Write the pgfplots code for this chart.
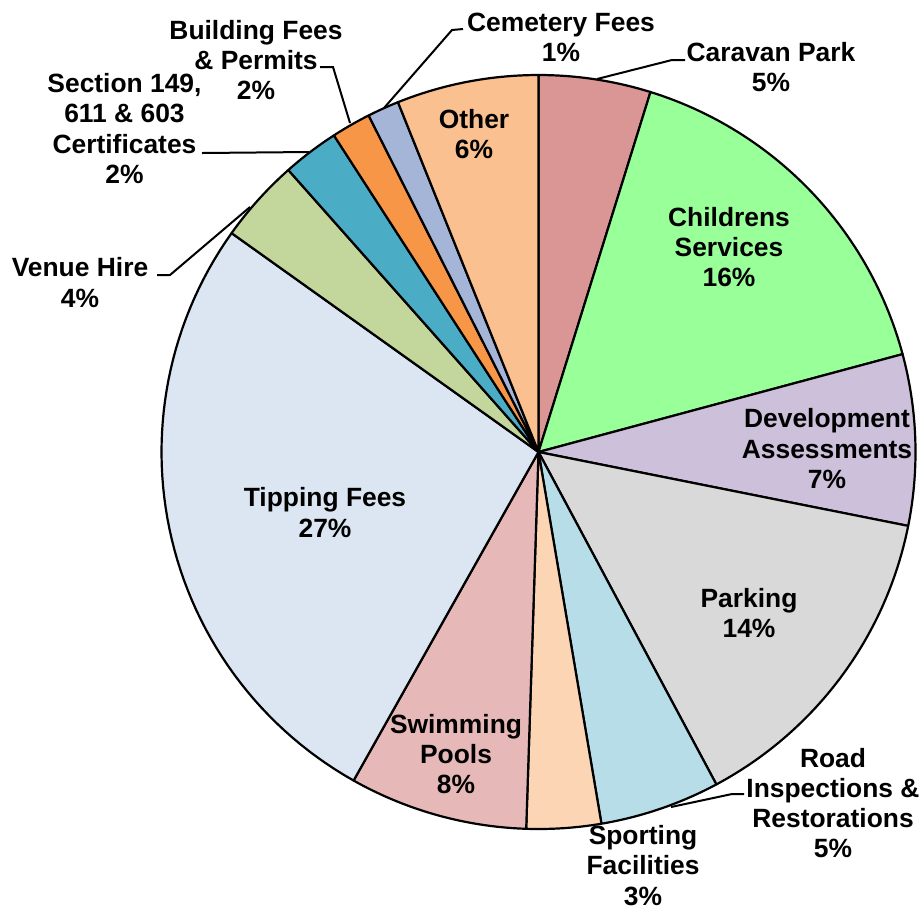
\documentclass[border=0pt]{standalone}
\usepackage{pgfplots}
\usepackage{pgfplotstable}
\pgfplotsset{compat=1.18}
\usepackage{fontspec}
\setmainfont{Liberation Sans}

\definecolor{cCaravan}{RGB}{217,150,148}
\definecolor{cChild}{RGB}{153,255,153}
\definecolor{cDev}{RGB}{204,192,218}
\definecolor{cPark}{RGB}{217,217,217}
\definecolor{cRoad}{RGB}{183,222,232}
\definecolor{cSport}{RGB}{252,213,181}
\definecolor{cSwim}{RGB}{230,185,184}
\definecolor{cTip}{RGB}{220,230,242}
\definecolor{cVenue}{RGB}{195,214,155}
\definecolor{cSect}{RGB}{75,172,198}
\definecolor{cBuild}{RGB}{247,150,70}
\definecolor{cCem}{RGB}{165,181,216}
\definecolor{cOther}{RGB}{250,192,144}

% share of revenue in percent, clockwise from 12 o'clock
\pgfplotstableread{
name share col
CaravanPark 4.80 cCaravan
ChildrensServices 16.02 cChild
DevelopmentAssessments 7.32 cDev
Parking 14.04 cPark
RoadInspections 5.15 cRoad
SportingFacilities 3.19 cSport
SwimmingPools 7.64 cSwim
TippingFees 26.70 cTip
VenueHire 3.59 cVenue
Section149 2.42 cSect
BuildingFees 1.69 cBuild
CemeteryFees 1.36 cCem
Other 6.08 cOther
}\pietable

\tikzset{lbl/.style={font=\fontsize{13.2}{15.1}\selectfont\bfseries, align=center, inner sep=0pt, text=black}}

\begin{document}
\begin{tikzpicture}
\begin{axis}[
  width=462pt, height=455.5pt, scale only axis,
  xmin=0, xmax=924, ymin=0, ymax=911,
  y dir=reverse, hide axis, clip=false]

\path (axis cs:0,0) rectangle (axis cs:924,911);

\pgfplotstablegetrowsof{\pietable}
\pgfmathtruncatemacro\N{\pgfplotsretval-1}
\def\cum{0}
\pgfplotsforeachungrouped \i in {0,...,\N}{%
  \pgfplotstablegetelem{\i}{share}\of\pietable
  \let\sv=\pgfplotsretval
  \pgfplotstablegetelem{\i}{col}\of\pietable
  \let\slicecol=\pgfplotsretval
  \pgfmathsetmacro\sa{\cum*3.6}%
  \pgfmathsetmacro\cum{\cum+\sv}%
  \pgfmathsetmacro\sb{\cum*3.6}%
  \edef\temp{\noexpand\addplot[draw=black, line width=1.1pt, line join=round, fill=\slicecol, domain=\sa:\sb, samples=60, variable=\noexpand\t] ({538.5+377*sin(\noexpand\t)},{452-377*cos(\noexpand\t)}) -- (axis cs:538.5,452) -- cycle;}%
  \temp
}

% leader lines
\draw[line width=1pt] (axis cs:463,29) -- (axis cs:452,30) -- (axis cs:384,108);
\draw[line width=1pt] (axis cs:685,60) -- (axis cs:672,60) -- (axis cs:597,79);
\draw[line width=1pt] (axis cs:320,67) -- (axis cs:333,67) -- (axis cs:350,123);
\draw[line width=1pt] (axis cs:202,153) -- (axis cs:309,152);
\draw[line width=1pt] (axis cs:157,275) -- (axis cs:170,275) -- (axis cs:250,207);
\draw[line width=1pt] (axis cs:744,794) -- (axis cs:732,794) -- (axis cs:671,807);

% labels
\node[lbl] at (axis cs:561,37.5) {Cemetery Fees\\1\%};
\node[lbl] at (axis cs:771,66.7) {Caravan Park\\5\%};
\node[lbl] at (axis cs:256,60) {Building Fees\\\& Permits\\2\%};
\node[lbl] at (axis cs:124.5,128.5) {Section 149,\\611 \& 603\\Certificates\\2\%};
\node[lbl] at (axis cs:80,282.5) {Venue Hire\\4\%};
\node[lbl] at (axis cs:474,134) {Other\\6\%};
\node[lbl] at (axis cs:729,247) {Childrens\\Services\\16\%};
\node[lbl] at (axis cs:827,448.7) {Development\\Assessments\\7\%};
\node[lbl] at (axis cs:749,613) {Parking\\14\%};
\node[lbl] at (axis cs:833,803) {Road\\Inspections \&\\Restorations\\5\%};
\node[lbl] at (axis cs:643,865.5) {Sporting\\Facilities\\3\%};
\node[lbl] at (axis cs:456,754) {Swimming\\Pools\\8\%};
\node[lbl] at (axis cs:325,512.5) {Tipping Fees\\27\%};
\end{axis}
\end{tikzpicture}
\end{document}
